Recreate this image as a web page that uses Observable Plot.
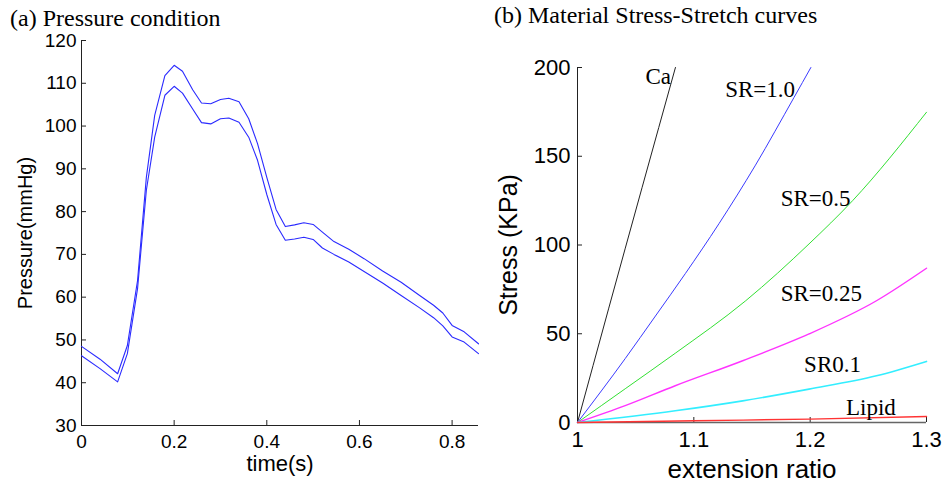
<!DOCTYPE html>
<html>
<head>
<meta charset="utf-8">
<script src="https://cdn.jsdelivr.net/npm/d3@7"></script>
<script src="https://cdn.jsdelivr.net/npm/@observablehq/plot@0.6"></script>
<style>
  html, body { margin: 0; padding: 0; background: #fff; }
  #wrap { position: relative; width: 946px; height: 487px; overflow: hidden; }
  .panel { position: absolute; top: 0; }
  .title { position: absolute; font-family: "Liberation Serif", "Times New Roman", serif; font-size: 24px; line-height: 24px; color: #000; white-space: nowrap; }
</style>
</head>
<body>
<div id="wrap">
  <div class="title" style="left:10px; top:6px;">(a) Pressure condition</div>
  <div class="title" style="left:494px; top:3px;">(b) Material Stress-Stretch curves</div>
  <div id="left" class="panel" style="left:0px;"></div>
  <div id="right" class="panel" style="left:470px;"></div>
</div>
<script>
// ---------- (a) Pressure condition ----------
const timeS = [0, 0.04, 0.078, 0.099, 0.121, 0.14, 0.158, 0.18, 0.2, 0.218, 0.24, 0.259, 0.279, 0.30, 0.318, 0.34, 0.361, 0.38, 0.40, 0.42, 0.44, 0.46, 0.48, 0.50, 0.52, 0.545, 0.577, 0.61, 0.65, 0.69, 0.73, 0.76, 0.78, 0.80, 0.826, 0.857];
const pressureUpper = [48.5, 45.5, 42.1, 48.7, 63.9, 88, 102.5, 111.8, 114.2, 112.8, 108.5, 105.4, 105.2, 106.2, 106.5, 105.7, 101.7, 95.9, 88, 80.5, 76.5, 76.9, 77.4, 77.0, 75.2, 73.0, 71.2, 69.0, 66.1, 63.5, 60.4, 58.1, 56.3, 53.4, 51.9, 49.1];
const pressureLower = [46.3, 43.3, 40.2, 46.8, 62, 85, 97.4, 107.2, 109.3, 107.7, 104, 100.8, 100.5, 101.7, 101.9, 100.9, 97.4, 92, 84, 77, 73.3, 73.6, 74.0, 73.5, 71.5, 70.0, 68.2, 66.0, 63.3, 60.4, 57.5, 55.2, 53.3, 50.7, 49.5, 46.8];
const timeTicks = [0, 0.2, 0.4, 0.6, 0.8];
const pressureTicks = [30, 40, 50, 60, 70, 80, 90, 100, 110, 120];

// ---------- (b) Material Stress-Stretch curves ----------
const caExt = [1, 1.0267, 1.0842];
const caStress = [0, 64, 200];
const sr10Ext = [1, 1.041, 1.067, 1.0928, 1.1216, 1.153, 1.186, 1.2006];
const sr10Stress = [0, 36, 60, 84, 112, 145, 183, 200];
const sr05Ext = [1, 1.041, 1.084, 1.1446, 1.199, 1.2365, 1.3];
const sr05Stress = [0, 19, 39, 68.6, 100.6, 125, 174.8];
const sr025Ext = [1, 1.041, 1.084, 1.142, 1.199, 1.257, 1.3];
const sr025Stress = [0, 9.5, 20.7, 34.8, 49.9, 68.6, 86.9];
const sr01Ext = [1, 1.084, 1.142, 1.199, 1.257, 1.3];
const sr01Stress = [0, 6.6, 12.2, 18.8, 26.3, 34.4];
const lipidExt = [1, 1.044, 1.1, 1.2, 1.3];
const lipidStress = [0, 0.4, 1.0, 1.9, 3.4];
const curveLabels = ["Ca", "SR=1.0", "SR=0.5", "SR=0.25", "SR0.1", "Lipid"];
const curveLabelExt = [1.0584, 1.1269, 1.1747, 1.1747, 1.1948, 1.2308];
const curveLabelStress = [195, 187.5, 126.4, 72.8, 32.8, 8.3];
const extTicks = [1, 1.1, 1.2, 1.3];
const stressTicks = [0, 50, 100, 150, 200];

const sans = "Liberation Sans, Arial, Helvetica, sans-serif";
const serif = "Liberation Serif, Times New Roman, serif";
const axisColor = "#222";
const plainFormat = d => String(d);

const left = Plot.plot({
  width: 480, height: 487,
  marginLeft: 81, marginRight: 2, marginTop: 40, marginBottom: 62,
  style: {fontFamily: sans, fontSize: "19px", background: "transparent", color: "#000", overflow: "visible"},
  x: {domain: [0, 0.857]},
  y: {domain: [30, 120]},
  marks: [
    Plot.axisX(timeTicks, {tickSize: -5, tickPadding: 14, tickFormat: plainFormat, label: null, stroke: axisColor, fill: "#000", fontSize: 19}),
    Plot.axisY(pressureTicks, {tickSize: -5, tickPadding: 10, tickFormat: plainFormat, label: null, stroke: axisColor, fill: "#000", fontSize: 19}),
    Plot.ruleX([0], {stroke: axisColor}),
    Plot.ruleY([30], {stroke: axisColor}),
    Plot.line(timeS, {x: timeS, y: pressureUpper, stroke: "#2a2aff", strokeWidth: 1.1}),
    Plot.line(timeS, {x: timeS, y: pressureLower, stroke: "#2a2aff", strokeWidth: 1.1}),
    Plot.text(["time(s)"], {frameAnchor: "bottom", textAnchor: "middle", dy: 45, fontSize: 22, fill: "#000"}),
    Plot.text(["Pressure(mmHg)"], {frameAnchor: "left", textAnchor: "middle", dx: -56, rotate: -90, fontSize: 20, fill: "#000"})
  ]
});
document.getElementById("left").appendChild(left);

const series = [
  {ext: caExt, stress: caStress, color: "#222222", w: 1},
  {ext: sr10Ext, stress: sr10Stress, color: "#3a3aff", w: 1},
  {ext: sr05Ext, stress: sr05Stress, color: "#33e033", w: 1},
  {ext: sr025Ext, stress: sr025Stress, color: "#ff33ff", w: 1.4},
  {ext: sr01Ext, stress: sr01Stress, color: "#33eeff", w: 1.6},
  {ext: lipidExt, stress: lipidStress, color: "#ff3333", w: 1.4}
];

const right = Plot.plot({
  width: 476, height: 487,
  marginLeft: 107, marginRight: 20, marginTop: 67, marginBottom: 65,
  style: {fontFamily: sans, fontSize: "22px", background: "transparent", color: "#000", overflow: "visible"},
  x: {domain: [1, 1.3]},
  y: {domain: [0, 200]},
  marks: [
    Plot.axisX(extTicks, {tickSize: -5, tickPadding: 14, tickFormat: plainFormat, label: null, stroke: axisColor, fill: "#000", fontSize: 22}),
    Plot.axisY(stressTicks, {tickSize: -5, tickPadding: 12, tickFormat: plainFormat, label: null, stroke: axisColor, fill: "#000", fontSize: 22}),
    Plot.ruleX([1], {stroke: axisColor}),
    Plot.ruleY([0], {stroke: "#666", strokeWidth: 1.5}),
    ...series.map(s => Plot.line(s.ext, {x: s.ext, y: s.stress, stroke: s.color, strokeWidth: s.w, curve: "monotone-x"})),
    Plot.text(curveLabels, {x: curveLabelExt, y: curveLabelStress, text: curveLabels, textAnchor: "start", lineAnchor: "middle", fontFamily: serif, fontSize: 23, fill: "#000"}),
    Plot.text(["extension ratio"], {frameAnchor: "bottom", textAnchor: "middle", dy: 55, fontSize: 26, fill: "#000"}),
    Plot.text(["Stress (KPa)"], {frameAnchor: "left", textAnchor: "middle", dx: -69, rotate: -90, fontSize: 25, fill: "#000"})
  ]
});
document.getElementById("right").appendChild(right);
</script>
</body>
</html>
